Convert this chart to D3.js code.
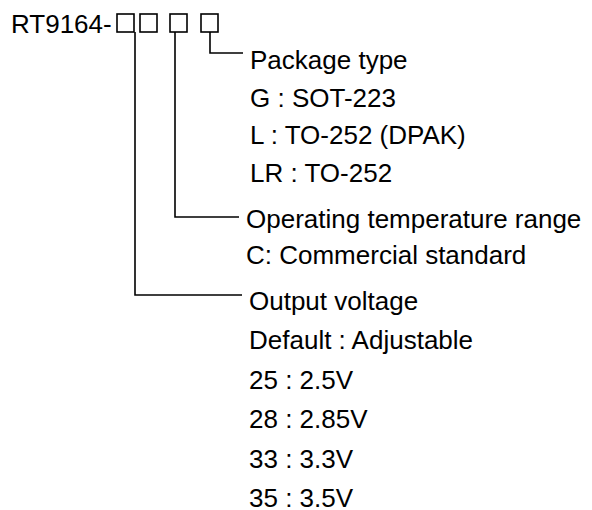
<!DOCTYPE html>
<html><head><meta charset="utf-8">
<script src="https://cdn.jsdelivr.net/npm/d3@7"></script>
<style>body{margin:0;background:#fff}svg{display:block}</style>
</head><body>
<script>
const partPrefix = "RT9164-";
const codeBoxes = ["V1", "V2", "T", "P"];
const packageLines = ["Package type", "G : SOT-223", "L : TO-252 (DPAK)", "LR : TO-252"];
const tempLines = ["Operating temperature range", "C: Commercial standard"];
const voltageLines = ["Output voltage", "Default : Adjustable", "25 : 2.5V", "28 : 2.85V", "33 : 3.3V", "35 : 3.5V"];

const W = 592, H = 510;
const svg = d3.select("body").append("svg").attr("width", W).attr("height", H);
const font = "'Liberation Sans', Arial, sans-serif";
const fs = 26;

svg.append("text").attr("x", 11).attr("y", 33).attr("font-family", font).attr("font-size", fs)
  .attr("fill", "#000").text(partPrefix);

const boxX = d3.scaleOrdinal().domain(codeBoxes).range([117, 140, 170, 201]);
svg.selectAll("rect.box").data(codeBoxes).enter().append("rect").attr("class", "box")
  .attr("x", d => boxX(d)).attr("y", 14).attr("width", 17).attr("height", 18)
  .attr("fill", "none").attr("stroke", "#000").attr("stroke-width", 1.6);

const groups = [
  {lines: packageLines, lineX: 210, lineY: 53, textX: 250, baseline: 69, step: 37.5},
  {lines: tempLines, lineX: 175, lineY: 217, textX: 246, baseline: 228, step: 36},
  {lines: voltageLines, lineX: 135, lineY: 295, textX: 249, baseline: 310, step: 39.4}
];

groups.forEach(g => {
  svg.append("path").attr("d", d3.line()([[g.lineX, 32], [g.lineX, g.lineY], [g.textX - 7, g.lineY]]))
    .attr("fill", "none").attr("stroke", "#000").attr("stroke-width", 1.6);
  svg.selectAll(null).data(g.lines).enter().append("text")
    .attr("x", g.textX).attr("y", (d, i) => g.baseline + i * g.step)
    .attr("font-family", font).attr("font-size", fs).attr("fill", "#000").text(d => d);
});
</script>
</body></html>
